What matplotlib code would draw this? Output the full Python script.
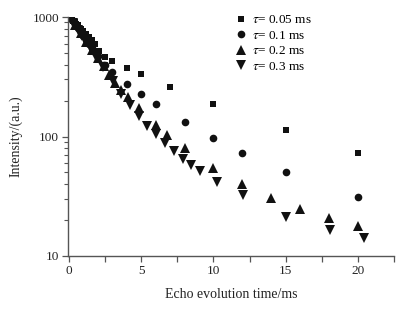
import matplotlib
matplotlib.use("Agg")
import matplotlib.pyplot as plt
from matplotlib.ticker import LogLocator, NullFormatter, FixedLocator

plt.rcParams['font.family'] = ['Liberation Serif', 'DejaVu Serif']
plt.rcParams['mathtext.fontset'] = 'stix'

# tau = 0.05 ms (squares)
t_sq = [0.1, 0.2, 0.3, 0.4, 0.5, 0.6, 0.8, 1.0, 1.2, 1.4, 1.6, 1.8, 2.1, 2.5, 3.0, 4.0, 5.0, 7.0, 10.0, 15.0, 20.0]
i_sq = [985, 955, 925, 900, 875, 850, 800, 760, 715, 675, 640, 600, 515, 463, 428, 372, 333, 261, 187, 113, 73]

# tau = 0.1 ms (circles)
t_ci = [0.2, 0.4, 0.6, 0.8, 1.0, 1.2, 1.4, 1.6, 1.8, 2.0, 2.5, 3.0, 4.0, 5.0, 6.0, 8.0, 10.0, 12.0, 15.0, 20.0]
i_ci = [940, 870, 805, 745, 690, 640, 595, 550, 510, 475, 400, 348, 275, 227, 188, 132, 96.6, 72.8, 50, 31.2]

# tau = 0.2 ms (up triangles)
t_up = [0.4, 0.8, 1.2, 1.6, 2.0, 2.4, 2.8, 3.2, 3.6, 4.06, 4.84, 6.04, 6.8, 8.03, 10.0, 12.0, 14.0, 16.0, 18.0, 20.0]
i_up = [860, 730, 620, 530, 455, 390, 327, 282, 245, 215, 172, 126, 103, 80.6, 54.2, 40, 30.4, 24.9, 20.9, 17.9]

# tau = 0.3 ms (down triangles)
t_dn = [0.3, 0.6, 0.9, 1.2, 1.5, 1.8, 2.37, 3.02, 3.6, 4.22, 4.82, 5.42, 6.04, 6.64, 7.27, 7.87, 8.44, 9.07, 10.22, 12.02, 15.04, 18.06, 20.41]
i_dn = [890, 785, 695, 615, 545, 480, 384, 293, 225, 184, 148, 122, 104, 88.7, 76, 65.2, 58, 51.4, 41.9, 32.4, 21.3, 16.4, 14.1]

labels = [r'$\tau$= 0.05 ms', r'$\tau$= 0.1 ms', r'$\tau$= 0.2 ms', r'$\tau$= 0.3 ms']

fig = plt.figure(figsize=(4.04, 3.16), dpi=100)
ax = fig.add_axes([68/404, 1-256/316, 326/404, (256-17)/316])

c = '#111111'
ax.plot(t_sq, i_sq, 's', color=c, ms=4.8, mew=0, label=labels[0])
ax.plot(t_ci, i_ci, 'o', color=c, ms=5.5, mew=0, label=labels[1])
ax.plot(t_up, i_up, '^', color=c, ms=6.5, mew=0, label=labels[2])
ax.plot(t_dn, i_dn, 'v', color=c, ms=6.5, mew=0, label=labels[3])

ax.set_yscale('log')
ax.set_ylim(10, 1000)
ax.set_xlim(-0.07, 22.5)

ax.xaxis.set_major_locator(FixedLocator([0, 5, 10, 15, 20]))
ax.xaxis.set_minor_locator(FixedLocator([2.5, 7.5, 12.5, 17.5, 22.5]))
ax.yaxis.set_major_locator(LogLocator(base=10))
ax.yaxis.set_minor_locator(LogLocator(base=10, subs=range(2, 10)))
ax.yaxis.set_minor_formatter(NullFormatter())
ax.yaxis.set_major_formatter(plt.FuncFormatter(lambda v, p: '%d' % v))

sc = '#555555'
for s in ['top', 'right']:
    ax.spines[s].set_visible(False)
for s in ['left', 'bottom']:
    ax.spines[s].set_color(sc)
    ax.spines[s].set_linewidth(1.0)

ax.tick_params(axis='both', which='major', direction='out', length=4.5, width=0.9, color=sc,
               labelsize=9.5, labelcolor='#222222', pad=2)
ax.tick_params(axis='x', which='minor', direction='out', length=4.5, width=0.9, color=sc)
ax.tick_params(axis='y', which='minor', direction='out', length=3, width=0.8, color=sc)

ax.set_xlabel('Echo evolution time/ms', fontsize=10, color='#222222', labelpad=8)
ax.set_ylabel('Intensity/(a.u.)', fontsize=10, color='#222222', labelpad=7)

ax.legend(loc='upper left', bbox_to_anchor=(236/404, 1-14/316), bbox_transform=fig.transFigure,
          frameon=False, fontsize=9.5, handlelength=0.8, handletextpad=0.4, labelspacing=0.25,
          borderaxespad=0, borderpad=0)

fig.savefig('out.png', dpi=100)
